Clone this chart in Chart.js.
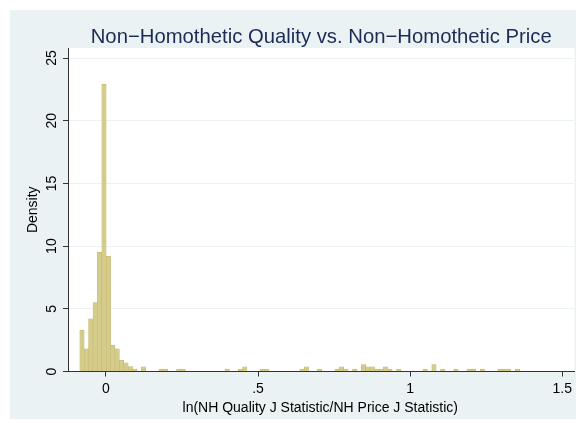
<!DOCTYPE html>
<html>
<head>
<meta charset="utf-8">
<script src="https://cdn.jsdelivr.net/npm/chart.js@4"></script>
<style>
  html, body { margin: 0; padding: 0; background: #ffffff; }
  #wrap { width: 576px; height: 423px; }
  canvas { display: block; }
</style>
</head>
<body>
<div id="wrap"><canvas id="myChart" width="576" height="423"></canvas></div>
<script>
"use strict";
// histogram bins (100 bins from the smallest value)
const binStart = -0.0858;
const binWidth = 0.01446;
// density of each bin
const density = [
    3.3, 1.8, 4.2, 5.5, 9.5, 22.9, 9.2, 2.1, 1.8, 0.9,
    0.7, 0.4, 0.2, 0, 0.38, 0, 0, 0, 0.19, 0.19,
    0, 0, 0.19, 0.19, 0, 0, 0, 0, 0, 0,
    0, 0, 0, 0.19, 0, 0, 0.19, 0.38, 0, 0,
    0, 0.19, 0.19, 0, 0, 0, 0, 0, 0, 0,
    0.19, 0.38, 0, 0, 0.19, 0, 0, 0, 0.19, 0.38,
    0.19, 0, 0.19, 0, 0.55, 0.38, 0.38, 0.19, 0.19, 0.38,
    0.19, 0, 0.19, 0, 0, 0, 0, 0, 0.19, 0,
    0.55, 0, 0.19, 0, 0, 0.19, 0, 0, 0.19, 0.19,
    0, 0.19, 0, 0, 0, 0.19, 0.19, 0.19, 0, 0.19
];
const xTickValues = [0, 0.5, 1, 1.5];
const xTickLabels = ["0", ".5", "1", "1.5"];
const yTickValues = [0, 5, 10, 15, 20, 25];
const yTickLabels = ["0", "5", "10", "15", "20", "25"];

const TitleText = "Non\u2212Homothetic Quality vs. Non\u2212Homothetic Price";
const XTitle = "ln(NH Quality J Statistic/NH Price J Statistic)";
const YTitle = "Density";

const FONT = "'Liberation Sans', Arial, sans-serif";
const BG = "#eaf2f3";

let points = [];
for (let i = 0; i < density.length; i++) {
    if (density[i] > 0)
        points.push({ x: binStart + (i + 0.5) * binWidth, y: density[i] });
}

// backgrounds, rotated y labels and titles the Stata way
const stataLook = {
    id: 'stataLook',
    beforeDraw(chart) {
        const ctx = chart.ctx;
        const a = chart.chartArea;
        ctx.save();
        ctx.fillStyle = '#ffffff';
        ctx.fillRect(0, 0, chart.width, chart.height);
        ctx.fillStyle = BG;
        ctx.fillRect(10, 10, chart.width - 10, chart.height - 14);
        ctx.fillStyle = '#ffffff';
        ctx.fillRect(a.left, a.top, a.right - a.left, a.bottom - a.top);
        ctx.restore();
    },
    afterDraw(chart) {
        const ctx = chart.ctx;
        const a = chart.chartArea;
        const yScale = chart.scales.y;
        ctx.save();
        ctx.fillStyle = '#000000';
        ctx.font = "14px " + FONT;
        ctx.textAlign = 'center';
        ctx.textBaseline = 'middle';
        for (let i = 0; i < yTickValues.length; i++) {
            let y = yScale.getPixelForValue(yTickValues[i]);
            ctx.save();
            ctx.translate(52, y);
            ctx.rotate(-Math.PI / 2);
            ctx.fillText(yTickLabels[i], 0, 0);
            ctx.restore();
        }
        // y title
        ctx.save();
        ctx.translate(33, (a.top + a.bottom) / 2);
        ctx.rotate(-Math.PI / 2);
        ctx.fillText(YTitle, 0, 0);
        ctx.restore();
        // x title
        ctx.fillText(XTitle, (a.left + a.right) / 2 - 1, 408);
        // main title
        ctx.fillStyle = '#1c2b55';
        ctx.font = "20.3px " + FONT;
        ctx.textBaseline = 'alphabetic';
        ctx.fillText(TitleText, (a.left + a.right) / 2, 43);
        ctx.restore();
    }
};

const data = {
    datasets: [{
        label: 'Density',
        data: points,
        backgroundColor: '#d5cc8c',
        borderColor: '#c5b86e',
        borderWidth: 0.6,
        barPercentage: 1,
        categoryPercentage: 1
    }]
};

const config = {
    type: 'bar',
    data: data,
    plugins: [stataLook],
    options: {
        responsive: false,
        animation: false,
        layout: { padding: { left: 0, right: 0, top: 48, bottom: 0 } },
        plugins: {
            legend: { display: false },
            tooltip: { enabled: false }
        },
        scales: {
            x: {
                type: 'linear',
                min: -0.1245,
                max: 1.540,
                offset: false,
                afterFit(scale) { scale.height = 51.5; },
                afterBuildTicks(scale) {
                    scale.ticks = xTickValues.map(v => ({ value: v }));
                },
                ticks: {
                    color: '#000000',
                    font: { family: FONT, size: 14 },
                    padding: 4,
                    maxRotation: 0,
                    autoSkip: false,
                    callback: (v) => xTickLabels[xTickValues.indexOf(v)]
                },
                grid: {
                    offset: false,
                    drawOnChartArea: false,
                    drawTicks: true,
                    tickLength: 5,
                    tickColor: '#333333'
                },
                border: { display: true, color: '#333333', width: 1 }
            },
            y: {
                min: 0,
                max: 25.8,
                afterFit(scale) { scale.width = 68; },
                afterBuildTicks(scale) {
                    scale.ticks = yTickValues.map(v => ({ value: v }));
                },
                ticks: { display: false },
                grid: {
                    drawTicks: true,
                    tickLength: 5,
                    tickColor: '#333333',
                    color: (c) => (c.tick && c.tick.value === 0) ? 'rgba(0,0,0,0)' : BG,
                    lineWidth: 1
                },
                border: { display: true, color: '#333333', width: 1 }
            }
        }
    }
};

const myChart = new Chart(document.getElementById('myChart').getContext('2d'), config);
</script>
</body>
</html>
